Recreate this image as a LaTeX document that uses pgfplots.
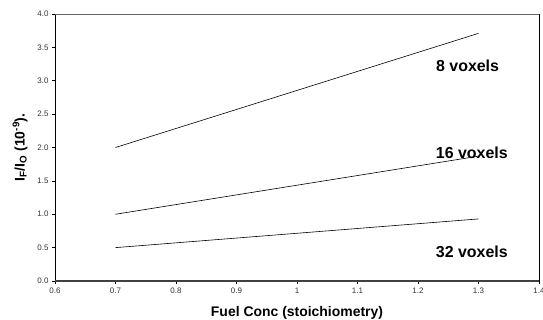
\documentclass[border=0pt]{standalone}
\usepackage{pgfplots}
\pgfplotsset{compat=1.18}
\usepackage{fontspec}
\setmainfont{Liberation Sans}
\begin{document}
\begin{tikzpicture}
\path[use as bounding box] (-55bp,-39bp) rectangle (488bp,281bp);
\begin{axis}[
  scale only axis,
  width=484bp, height=267bp,
  xmin=0.6, xmax=1.4, ymin=0, ymax=4,
  xtick={0.6,0.7,...,1.41},
  ytick={0,0.5,...,4.01},
  xticklabels={0.6,0.7,0.8,0.9,1,1.1,1.2,1.3,1.4},
  yticklabel style={/pgf/number format/.cd,fixed,fixed zerofill,precision=1},
  /pgf/number format/assume math mode=true,
  tick label style={font=\fontsize{8}{9}\selectfont, text=black!80},
  tick align=outside,
  major tick length=3bp,
  tick style={black, line width=0.6bp},
  xtick pos=bottom, ytick pos=left,
  axis line style={line width=0.6bp},
  xlabel={\textbf{Fuel Conc (stoichiometry)}},
  ylabel={\textbf{I\textsubscript{F}/I\textsubscript{O} (10\textsuperscript{-9}).}},
  label style={font=\fontsize{14}{16}\selectfont},
  xlabel style={at={(axis description cs:0.5,0)}, anchor=center, yshift=-32bp},
  ylabel style={at={([xshift=-35bp]axis description cs:0,0.5)}, anchor=center},
  clip=false,
]
\addplot[black, line width=0.6bp] coordinates {(0.7,2.0) (1.3,3.71)};
\addplot[black, line width=0.6bp] coordinates {(0.7,1.0) (1.3,1.87)};
\addplot[black, line width=0.6bp] coordinates {(0.7,0.5) (1.3,0.93)};
\draw[black!75, line width=1.6bp] (axis cs:0.6,0) -- (axis cs:1.4,0);
\draw[black!60, line width=0.8bp] (axis cs:0.6,4) -- (axis cs:1.4,4);
\node[font=\bfseries\fontsize{16}{18}\selectfont] at (axis cs:1.282,3.22) {8 voxels};
\node[font=\bfseries\fontsize{16}{18}\selectfont] at (axis cs:1.289,1.92) {16 voxels};
\node[font=\bfseries\fontsize{16}{18}\selectfont] at (axis cs:1.289,0.442) {32 voxels};
\end{axis}
\end{tikzpicture}
\end{document}
